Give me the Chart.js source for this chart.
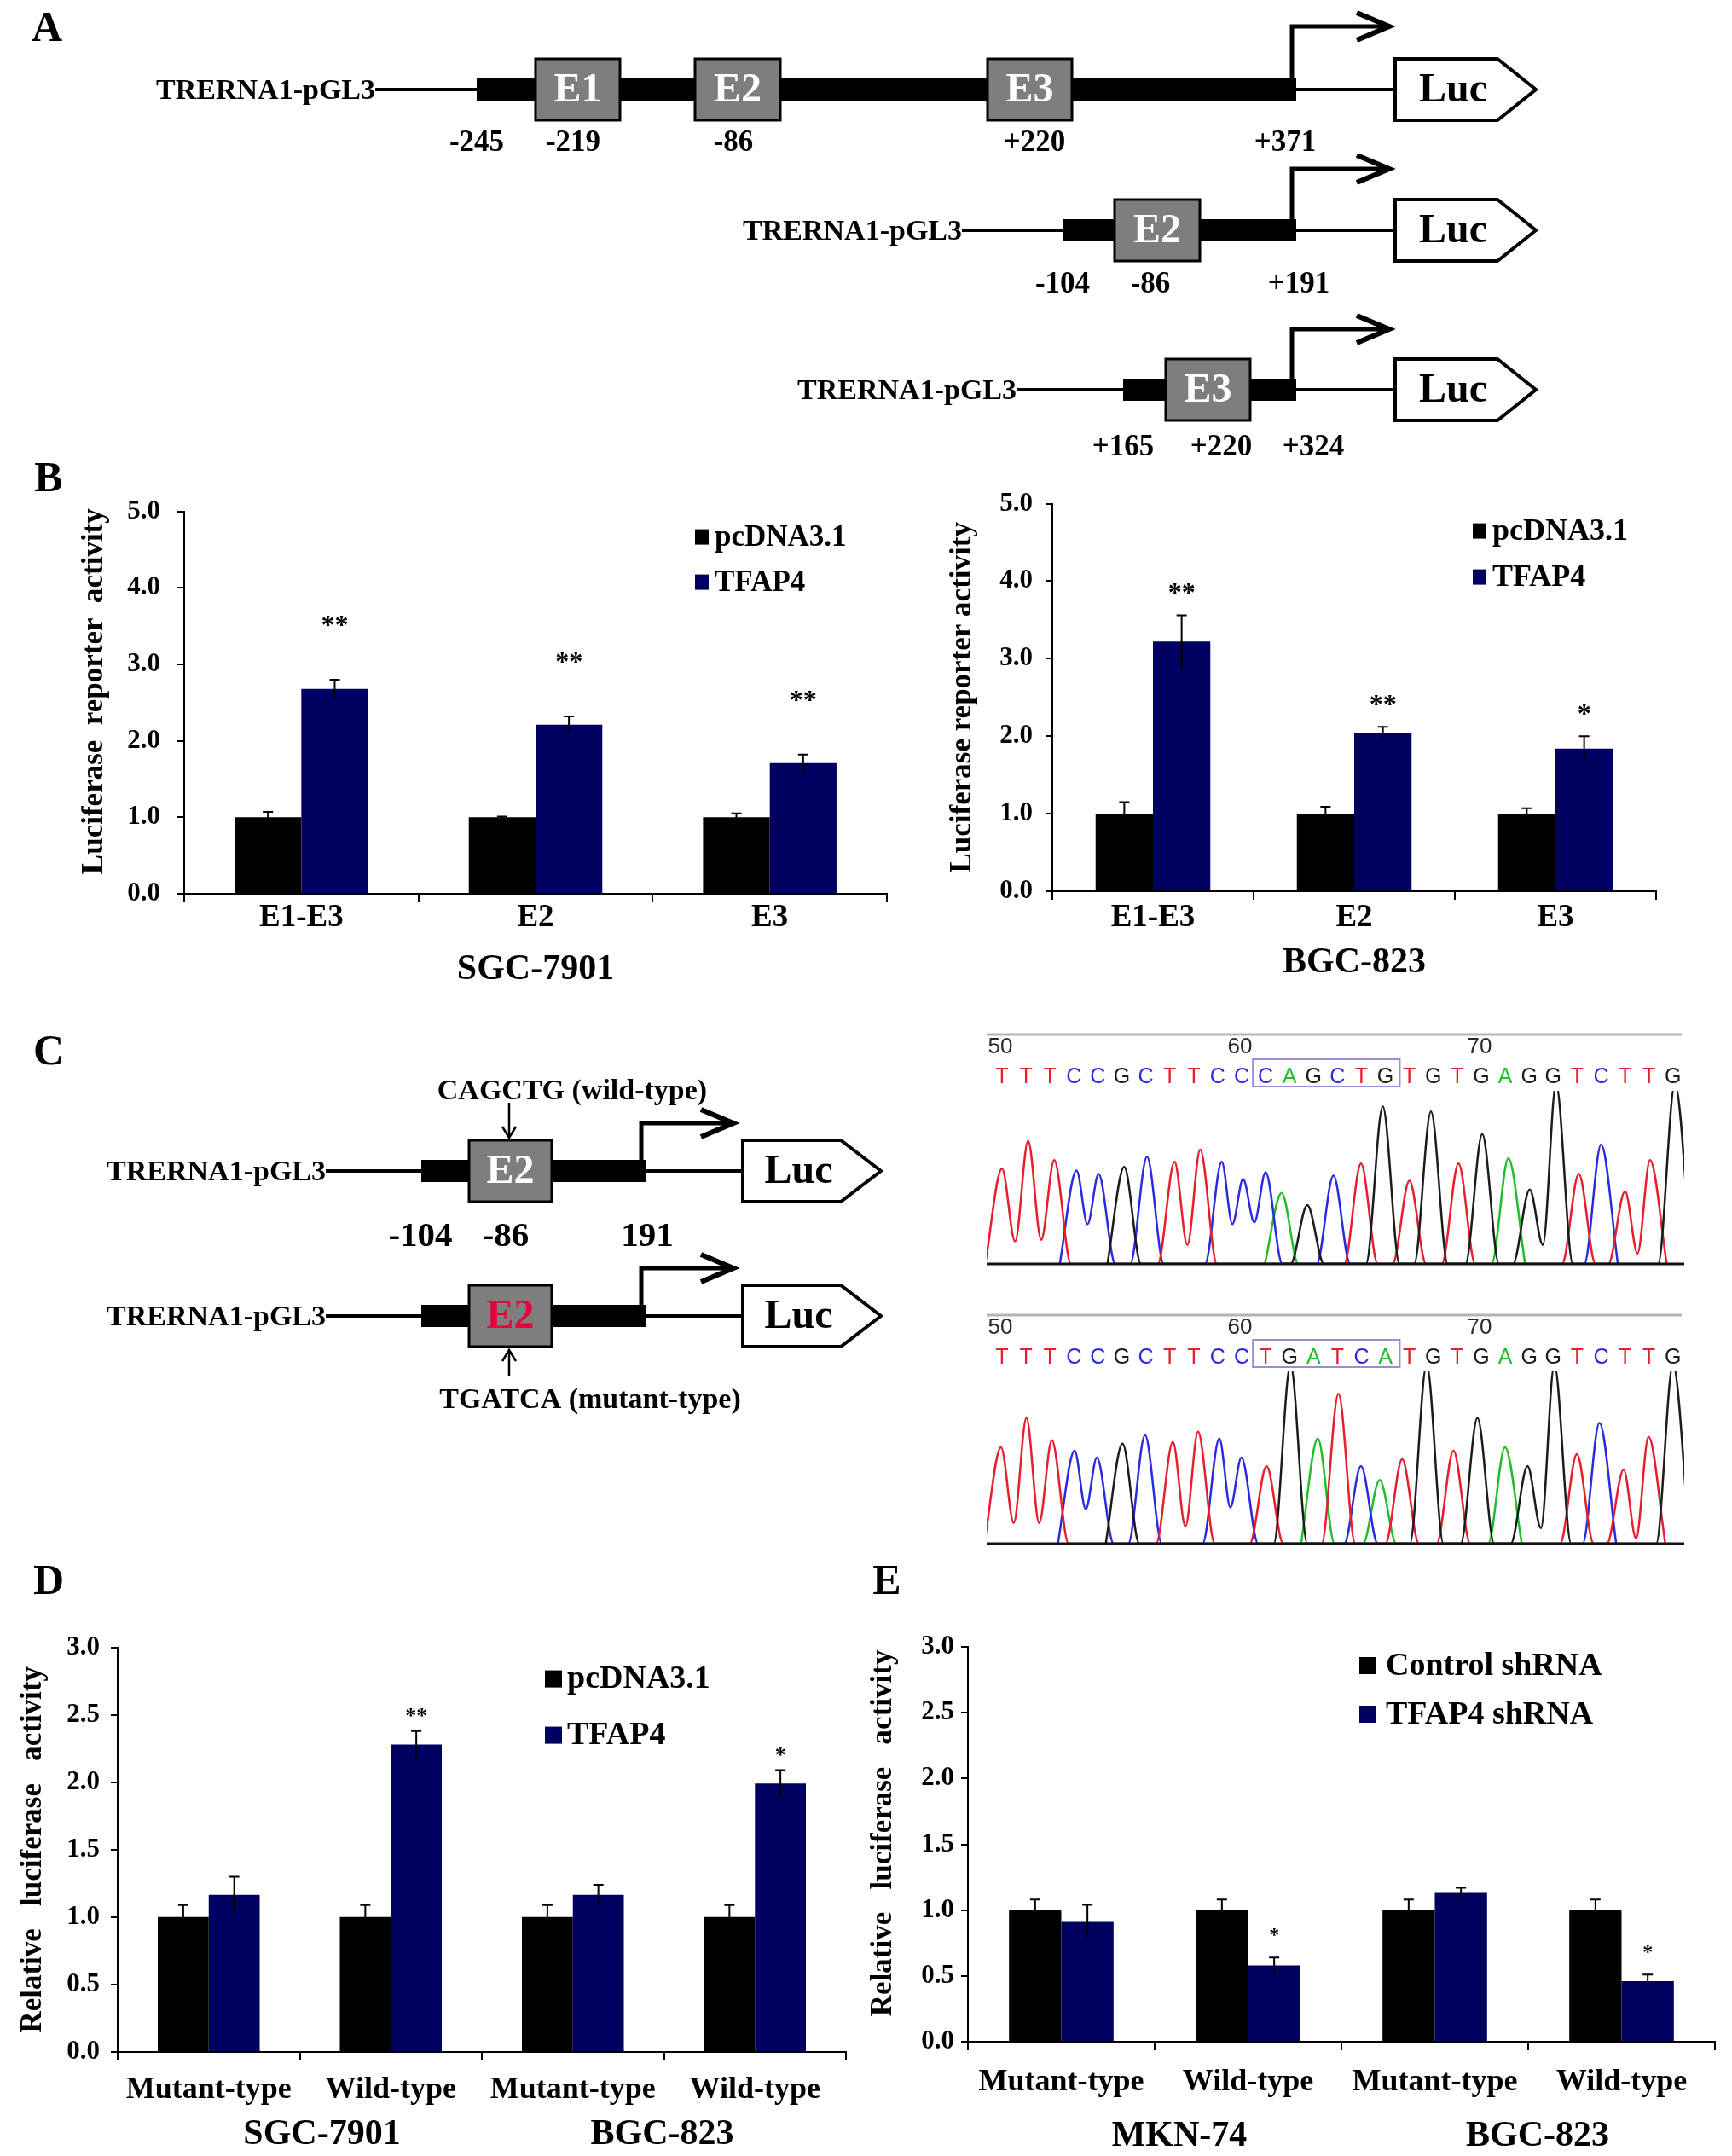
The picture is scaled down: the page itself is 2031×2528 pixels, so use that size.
<!DOCTYPE html>
<html>
<head>
<meta charset="utf-8">
<script src="https://cdn.jsdelivr.net/npm/chart.js@4.4.1/dist/chart.umd.min.js"></script>
<style>
  html, body { margin: 0; padding: 0; background: #fff; }
  #page { position: relative; width: 2031px; height: 2528px; overflow: hidden; background: #fff; }
  .wrap { position: absolute; }
  canvas { display: block; }
</style>
</head>
<body>
<div id="page">
  <canvas id="bg" width="2031" height="2528" style="position:absolute;left:0;top:0"></canvas>
  <div class="wrap" style="left:90px;top:561px"><canvas id="chartB1" width="954" height="601"></canvas></div>
  <div class="wrap" style="left:1108px;top:557px"><canvas id="chartB2" width="838" height="597"></canvas></div>
  <div class="wrap" style="left:1140px;top:1190px"><canvas id="seqWild" width="850" height="310"></canvas></div>
  <div class="wrap" style="left:1140px;top:1519px"><canvas id="seqMut" width="850" height="310"></canvas></div>
  <div class="wrap" style="left:18px;top:1900px"><canvas id="chartD" width="978" height="628"></canvas></div>
  <div class="wrap" style="left:1015px;top:1901px"><canvas id="chartE" width="1000" height="627"></canvas></div>
</div>
<script>
const SERIF = "'Liberation Serif', 'Times New Roman', serif";
const SANS = "'Liberation Sans', Arial, sans-serif";

// ---- B: luciferase reporter activity
const bCats = ['E1-E3', 'E2', 'E3'];
const bSeries = ['pcDNA3.1', 'TFAP4'];

const sgcPc = [1.0, 1.0, 1.0];
const sgcPcErr = [0.07, 0.01, 0.05];
const sgcTf = [2.68, 2.21, 1.71];
const sgcTfErr = [0.12, 0.11, 0.11];
const sgcStars = ['**', '**', '**'];

const bgcPc = [1.0, 1.0, 1.0];
const bgcPcErr = [0.15, 0.09, 0.07];
const bgcTf = [3.22, 2.04, 1.84];
const bgcTfErr = [0.34, 0.08, 0.16];
const bgcStars = ['**', '**', '*'];

// ---- D / E: mutant vs wild-type
const deCats = ['Mutant-type', 'Wild-type', 'Mutant-type', 'Wild-type'];
const dGroups = ['SGC-7901', 'BGC-823'];
const dSeries = ['pcDNA3.1', 'TFAP4'];
const dPc = [1.0, 1.0, 1.0, 1.0];
const dPcErr = [0.09, 0.09, 0.09, 0.09];
const dTf = [1.165, 2.28, 1.165, 1.99];
const dTfErr = [0.135, 0.10, 0.075, 0.10];
const dStars = ['', '**', '', '*'];

const eGroups = ['MKN-74', 'BGC-823'];
const eSeries = ['Control shRNA', 'TFAP4 shRNA'];
const eCtrl = [1.0, 1.0, 1.0, 1.0];
const eCtrlErr = [0.08, 0.08, 0.08, 0.08];
const eSh = [0.91, 0.58, 1.13, 0.46];
const eShErr = [0.13, 0.06, 0.04, 0.05];
const eStars = ['', '*', '', '*'];

// ---- C: sequencing traces (peak position, peak height, raised valley to next same-base peak)
const seqWildBases = 'TTTCCGCTTCCCAGCTGTGTGAGGTCTTG';
const seqWildPos = [50.0, 51.09, 52.18, 53.11, 54.03, 55.1, 56.05, 57.2, 58.27, 59.17, 60.06, 61.0, 61.67, 62.74,
  63.83, 64.98, 65.89, 67.0, 67.9, 69.05, 70.04, 71.13, 72.02, 73.12, 74.07, 75.0, 76.0, 77.04, 78.08];
const seqWildHeight = [55, 71, 60, 54, 52, 56, 62, 59, 66, 59, 49, 53, 41, 34, 51, 58, 91, 48, 88, 58,
  75, 61, 43, 104, 52, 69, 42, 60, 104];
const seqWildValley = [13, 14, 0, 23, 0, 0, 0, 11, 0, 23, 24, 0, 0, 0, 0, 0, 0, 0, 0, 0, 0, 0, 11, 0, 0, 0, 6, 0];

const seqMutBases = 'TTTCCGCTTCCTGATCATGTGAGGTCTTG';
const seqMutPos = [49.96, 51.02, 52.08, 53.03, 53.96, 55.03, 55.97, 57.13, 58.18, 59.07, 59.99, 61.04, 62.04, 63.18,
  64.04, 64.98, 65.76, 66.7, 67.72, 68.84, 69.84, 70.99, 71.93, 73.05, 73.99, 74.93, 75.94, 76.98, 78.0];
const seqMutHeight = [56, 73, 60, 54, 50, 58, 63, 59, 65, 61, 50, 45, 104, 61, 87, 45, 37, 49, 104, 54,
  73, 56, 45, 104, 52, 70, 43, 62, 104];
const seqMutValley = [12, 12, 0, 20, 0, 0, 0, 10, 0, 21, 0, 0, 0, 0, 0, 0, 0, 0, 0, 0, 0, 0, 9, 0, 0, 0, 3, 0];

const seqTickLabels = [50, 60, 70];

const BASE_COLORS = { A: '#1fbe2a', C: '#2a2ae0', G: '#1c1c1c', T: '#e61e2e' };
const BLACK = '#000000';
const NAVY = '#000060';

Chart.defaults.font.family = SERIF;
Chart.defaults.font.weight = 'bold';
Chart.defaults.color = '#000';
Chart.defaults.devicePixelRatio = 1;
Chart.defaults.animation = false;

// error bars, stars, legend and group labels
const extrasPlugin = {
  id: 'extras',
  afterDatasetsDraw(chart, args, opts) {
    const ctx = chart.ctx;
    const y = chart.scales.y;
    chart.data.datasets.forEach((ds, di) => {
      const meta = chart.getDatasetMeta(di);
      meta.data.forEach((bar, j) => {
        const v = ds.data[j], e = ds.errors[j];
        const top = y.getPixelForValue(v + e);
        const bot = y.getPixelForValue(v - e);
        ctx.save();
        ctx.strokeStyle = '#000';
        ctx.lineWidth = 2;
        ctx.beginPath();
        ctx.moveTo(bar.x, bot);
        ctx.lineTo(bar.x, top);
        ctx.moveTo(bar.x - opts.capHalf, top);
        ctx.lineTo(bar.x + opts.capHalf, top);
        ctx.stroke();
        if (ds.stars && ds.stars[j]) {
          ctx.fillStyle = '#000';
          ctx.font = `bold ${opts.starFont}px ${SERIF}`;
          ctx.textAlign = 'center';
          ctx.textBaseline = 'alphabetic';
          ctx.fillText(ds.stars[j], bar.x, top - opts.starGap + opts.starFont * 0.5);
        }
        ctx.restore();
      });
    });
  },
  afterDraw(chart, args, opts) {
    const ctx = chart.ctx;
    const area = chart.chartArea;
    const lg = opts.legend;
    ctx.save();
    ctx.font = `bold ${lg.font}px ${SERIF}`;
    ctx.textAlign = 'left';
    ctx.textBaseline = 'middle';
    chart.data.datasets.forEach((ds, i) => {
      const x = area.left + lg.dx;
      const yc = area.top + lg.dy[i];
      ctx.fillStyle = ds.backgroundColor;
      ctx.fillRect(x, yc - lg.box[1] / 2, lg.box[0], lg.box[1]);
      ctx.fillStyle = '#000';
      ctx.fillText(ds.label, x + lg.box[0] + lg.gap, yc + 1);
    });
    if (opts.groups) {
      const xs = chart.scales.x;
      ctx.font = `bold ${opts.groupFont}px ${SERIF}`;
      ctx.textAlign = 'center';
      opts.groups.forEach((g, i) => {
        const cx = (xs.getPixelForValue(2 * i) + xs.getPixelForValue(2 * i + 1)) / 2 + opts.groupShift[i];
        ctx.fillText(g, cx, area.bottom + opts.groupDy);
      });
    }
    ctx.restore();
  }
};

function barChart(id, c) {
  return new Chart(document.getElementById(id), {
    type: 'bar',
    data: {
      labels: c.labels,
      datasets: c.series.map((s, i) => ({
        label: s,
        data: c.values[i],
        errors: c.errors[i],
        stars: c.stars[i],
        backgroundColor: i === 0 ? BLACK : NAVY,
        borderWidth: 0,
        categoryPercentage: c.catPct,
        barPercentage: 1.0
      }))
    },
    plugins: [extrasPlugin],
    options: {
      responsive: false,
      maintainAspectRatio: false,
      layout: { padding: { top: c.padTop, right: 4, left: 0, bottom: 0 } },
      plugins: {
        legend: { display: false },
        tooltip: { enabled: false },
        extras: c.extras
      },
      scales: {
        x: {
          grid: { drawOnChartArea: false, drawTicks: true, tickLength: 10, color: '#000', lineWidth: 2, offset: true },
          border: { display: true, color: '#000', width: 2 },
          ticks: { font: { size: c.xFont, weight: 'bold' }, padding: c.xPad, autoSkip: false, maxRotation: 0 },
          title: c.xTitle ? { display: true, text: c.xTitle, font: { size: 42, weight: 'bold' }, padding: 0 } : { display: false },
          afterFit: s => { s.height = c.xHeight; }
        },
        y: {
          min: 0,
          max: c.yMax,
          grid: { drawOnChartArea: false, drawTicks: true, tickLength: 8, color: '#000', lineWidth: 2 },
          border: { display: true, color: '#000', width: 2 },
          ticks: { stepSize: c.yStep, font: { size: c.yFont, weight: 'bold' }, padding: c.yPad,
                   callback: v => v.toFixed(1) },
          title: { display: true, text: c.yTitle, font: { size: c.yTitleFont, weight: 'bold' }, padding: 0 },
          afterFit: s => { s.width = c.yWidth; }
        }
      }
    }
  });
}

barChart('chartB1', {
  labels: bCats, series: bSeries,
  values: [sgcPc, sgcTf], errors: [sgcPcErr, sgcTfErr], stars: [null, sgcStars],
  catPct: 0.57, yMax: 5, yStep: 1, yFont: 31, yPad: 20, xFont: 37, xPad: -4, padTop: 20,
  yTitle: '   Luciferase  reporter  activity', yTitleFont: 35, yWidth: 126, xHeight: 114,
  xTitle: 'SGC-7901',
  extras: { capHalf: 6, starFont: 32, starGap: 70,
            legend: { dx: 599, dy: [30, 83], box: [16, 18], gap: 7, font: 35 } }
});

barChart('chartB2', {
  labels: bCats, series: bSeries,
  values: [bgcPc, bgcTf], errors: [bgcPcErr, bgcTfErr], stars: [null, bgcStars],
  catPct: 0.57, yMax: 5, yStep: 1, yFont: 31, yPad: 15, xFont: 37, xPad: -1, padTop: 30,
  yTitle: 'Luciferase reporter activity', yTitleFont: 35, yWidth: 126, xHeight: 109,
  xTitle: 'BGC-823',
  extras: { capHalf: 6, starFont: 32, starGap: 32,
            legend: { dx: 493, dy: [32, 86], box: [15, 18], gap: 8, font: 36 } }
});

barChart('chartD', {
  labels: deCats, series: dSeries,
  values: [dPc, dTf], errors: [dPcErr, dTfErr], stars: [null, dStars],
  catPct: 0.56, yMax: 3, yStep: 0.5, yFont: 31, yPad: 13, xFont: 36, xPad: 13, padTop: 30,
  yTitle: 'Relative   luciferase   activity', yTitleFont: 35, yWidth: 120, xHeight: 122,
  extras: { capHalf: 6, starFont: 26, starGap: 23,
            legend: { dx: 501, dy: [37, 103], box: [20, 20], gap: 6, font: 38 },
            groups: dGroups, groupShift: [26, -2], groupDy: 97, groupFont: 42 }
});

barChart('chartE', {
  labels: deCats, series: eSeries,
  values: [eCtrl, eSh], errors: [eCtrlErr, eShErr], stars: [null, eStars],
  catPct: 0.56, yMax: 3, yStep: 0.5, yFont: 31, yPad: 8, xFont: 36, xPad: 16, padTop: 30,
  yTitle: '   Relative   luciferase   activity', yTitleFont: 35, yWidth: 120, xHeight: 134,
  extras: { capHalf: 6, starFont: 24, starGap: 31,
            legend: { dx: 459, dy: [22, 79], box: [19, 20], gap: 12, font: 38 },
            groups: eGroups, groupShift: [29, 11], groupDy: 111, groupFont: 42 }
});

// ---- sequencing traces
function traceData(bases, pos, height, valley, base) {
  const half = 0.7;
  const pts = [];
  for (let i = 0; i < bases.length; i++) {
    if (bases[i] !== base) continue;
    const prevSame = i > 0 && bases[i - 1] === base;
    const nextSame = i < bases.length - 1 && bases[i + 1] === base;
    if (!prevSame) pts.push({ x: pos[i] - half, y: 0 });
    pts.push({ x: pos[i], y: height[i] });
    if (nextSame) pts.push({ x: (pos[i] + pos[i + 1]) / 2, y: valley[i] });
    else pts.push({ x: pos[i] + half, y: 0 });
  }
  return pts;
}

const seqDecor = {
  id: 'seqDecor',
  afterDraw(chart, args, opts) {
    const ctx = chart.ctx;
    const a = chart.chartArea;
    const xs = chart.scales.x;
    ctx.save();
    // grey ruler line
    ctx.strokeStyle = '#b4b4b4';
    ctx.lineWidth = 3;
    ctx.beginPath();
    ctx.moveTo(a.left, a.top - 66);
    ctx.lineTo(a.right - 3, a.top - 66);
    ctx.stroke();
    // position numbers
    ctx.fillStyle = '#2a2a2a';
    ctx.font = `26px ${SANS}`;
    ctx.textAlign = 'center';
    ctx.textBaseline = 'middle';
    seqTickLabels.forEach(n => ctx.fillText(String(n), xs.getPixelForValue(n) - 2, a.top - 51));
    // base calls
    ctx.font = `25px ${SANS}`;
    for (let i = 0; i < opts.bases.length; i++) {
      const b = opts.bases[i];
      ctx.fillStyle = BASE_COLORS[b];
      ctx.fillText(b, xs.getPixelForValue(50 + i), a.top - 16);
    }
    // site box
    ctx.strokeStyle = '#9a8cd6';
    ctx.lineWidth = 2;
    const x0 = xs.getPixelForValue(60.47), x1 = xs.getPixelForValue(66.6);
    ctx.strokeRect(x0, a.top - 37, x1 - x0, 32);
    // baseline
    ctx.strokeStyle = '#111';
    ctx.lineWidth = 3;
    ctx.beginPath();
    ctx.moveTo(a.left, a.bottom);
    ctx.lineTo(a.right, a.bottom);
    ctx.stroke();
    ctx.restore();
  }
};

function seqChart(id, bases, pos, height, valley, padBottom) {
  return new Chart(document.getElementById(id), {
    type: 'scatter',
    data: {
      datasets: ['G', 'T', 'C', 'A'].map(b => ({
        data: traceData(bases, pos, height, valley, b),
        showLine: true,
        borderColor: BASE_COLORS[b],
        borderWidth: 2.5,
        pointRadius: 0,
        cubicInterpolationMode: 'monotone'
      }))
    },
    plugins: [seqDecor],
    options: {
      responsive: false,
      maintainAspectRatio: false,
      layout: { padding: { left: 17, right: 15, top: 89, bottom: padBottom } },
      plugins: { legend: { display: false }, tooltip: { enabled: false }, seqDecor: { bases } },
      scales: {
        x: { type: 'linear', min: 49.36, max: 78.47, display: false },
        y: { min: 0, max: 100, display: false }
      }
    }
  });
}

seqChart('seqWild', seqWildBases, seqWildPos, seqWildHeight, seqWildValley, 18);
seqChart('seqMut', seqMutBases, seqMutPos, seqMutHeight, seqMutValley, 19);

// ---- construct diagrams (A and C)
const bg = document.getElementById('bg').getContext('2d');

const panelLetters = [['A', 55, 35], ['B', 57, 563], ['C', 57, 1235], ['D', 57, 1856], ['E', 1040, 1856]];

const constructsA = [
  { y: 105, textRight: 440, thick0: 559, thick1: 1520, arrowTop: 31, arrowLen: 114, luc0: 1636, lucRect: 120, lucTip: 45,
    boxes: [['E1', 628, 727], ['E2', 815, 915], ['E3', 1158, 1257]],
    marks: [['-245', 559], ['-219', 672], ['-86', 860], ['+220', 1213], ['+371', 1507]], markY: 168, markFont: 35 },
  { y: 270, textRight: 1128, thick0: 1246, thick1: 1520, arrowTop: 198, arrowLen: 114, luc0: 1636, lucRect: 120, lucTip: 45,
    boxes: [['E2', 1307, 1407]],
    marks: [['-104', 1246], ['-86', 1349], ['+191', 1523]], markY: 334, markFont: 35 },
  { y: 457, textRight: 1192, thick0: 1317, thick1: 1520, arrowTop: 386, arrowLen: 114, luc0: 1636, lucRect: 120, lucTip: 45,
    boxes: [['E3', 1367, 1466]],
    marks: [['+165', 1317], ['+220', 1432], ['+324', 1540]], markY: 525, markFont: 35 }
];

const constructsC = [
  { y: 1373, textRight: 382, thick0: 494, thick1: 757, arrowTop: 1317, arrowLen: 108, luc0: 871, lucRect: 115, lucTip: 47,
    boxes: [['E2', 550, 647]],
    marks: [['-104', 493], ['-86', 593], ['191', 759]], markY: 1450, markFont: 41 },
  { y: 1543, textRight: 382, thick0: 494, thick1: 757, arrowTop: 1487, arrowLen: 108, luc0: 871, lucRect: 115, lucTip: 47,
    boxes: [['E2', 550, 647]], boxText: '#e8003c', marks: [] }
];

function drawConstruct(ctx, r) {
  ctx.save();
  ctx.fillStyle = '#000';
  ctx.strokeStyle = '#000';
  ctx.font = `bold 34px ${SERIF}`;
  ctx.textAlign = 'right';
  ctx.textBaseline = 'middle';
  ctx.fillText('TRERNA1-pGL3', r.textRight, r.y + 2);
  // thin lines
  ctx.lineWidth = 4;
  ctx.beginPath();
  ctx.moveTo(r.textRight, r.y);
  ctx.lineTo(r.thick0, r.y);
  ctx.moveTo(r.thick1, r.y);
  ctx.lineTo(r.luc0, r.y);
  ctx.stroke();
  // thick region
  ctx.fillRect(r.thick0, r.y - 13, r.thick1 - r.thick0, 26);
  // transcription start arrow
  const ax = r.thick1 - 5;
  ctx.lineWidth = 5;
  ctx.lineJoin = 'miter';
  ctx.beginPath();
  ctx.moveTo(ax, r.y - 12);
  ctx.lineTo(ax, r.arrowTop);
  ctx.lineTo(ax + r.arrowLen - 4, r.arrowTop);
  ctx.stroke();
  ctx.lineWidth = 6;
  ctx.beginPath();
  ctx.moveTo(ax + r.arrowLen - 38, r.arrowTop - 16);
  ctx.lineTo(ax + r.arrowLen, r.arrowTop);
  ctx.lineTo(ax + r.arrowLen - 38, r.arrowTop + 16);
  ctx.stroke();
  // E-boxes
  r.boxes.forEach(([t, x0, x1]) => {
    ctx.fillStyle = '#7e7e7e';
    ctx.fillRect(x0, r.y - 36, x1 - x0, 72);
    ctx.lineWidth = 3;
    ctx.strokeStyle = '#000';
    ctx.strokeRect(x0, r.y - 36, x1 - x0, 72);
    ctx.fillStyle = r.boxText || '#fff';
    ctx.font = `bold 48px ${SERIF}`;
    ctx.textAlign = 'center';
    ctx.fillText(t, (x0 + x1) / 2, r.y + 2);
  });
  // Luc pentagon
  ctx.fillStyle = '#fff';
  ctx.lineWidth = 4;
  ctx.beginPath();
  ctx.moveTo(r.luc0, r.y - 36);
  ctx.lineTo(r.luc0 + r.lucRect, r.y - 36);
  ctx.lineTo(r.luc0 + r.lucRect + r.lucTip, r.y);
  ctx.lineTo(r.luc0 + r.lucRect, r.y + 36);
  ctx.lineTo(r.luc0, r.y + 36);
  ctx.closePath();
  ctx.fill();
  ctx.stroke();
  ctx.fillStyle = '#000';
  ctx.font = `bold 48px ${SERIF}`;
  ctx.textAlign = 'center';
  ctx.fillText('Luc', r.luc0 + r.lucRect / 2 + 8, r.y + 2);
  // coordinates
  ctx.font = `bold ${r.markFont}px ${SERIF}`;
  r.marks.forEach(([t, x]) => ctx.fillText(t, x, r.markY));
  ctx.restore();
}

bg.fillStyle = '#fff';
bg.fillRect(0, 0, 2031, 2528);
bg.fillStyle = '#000';
bg.font = `bold 50px ${SERIF}`;
bg.textAlign = 'center';
bg.textBaseline = 'middle';
panelLetters.forEach(([t, x, y]) => bg.fillText(t, x, y));

constructsA.forEach(r => drawConstruct(bg, r));
constructsC.forEach(r => drawConstruct(bg, r));

// site annotations in C
function siteArrow(ctx, x, yFrom, yTo) {
  const dir = yTo > yFrom ? 1 : -1;
  ctx.save();
  ctx.strokeStyle = '#000';
  ctx.lineWidth = 2.5;
  ctx.beginPath();
  ctx.moveTo(x, yFrom);
  ctx.lineTo(x, yTo);
  ctx.moveTo(x - 8, yTo - dir * 13);
  ctx.lineTo(x, yTo);
  ctx.lineTo(x + 8, yTo - dir * 13);
  ctx.stroke();
  ctx.restore();
}
siteArrow(bg, 597, 1293, 1334);
siteArrow(bg, 597, 1613, 1583);
bg.fillStyle = '#000';
bg.font = `bold 34px ${SERIF}`;
bg.textAlign = 'center';
bg.textBaseline = 'middle';
bg.fillText('CAGCTG (wild-type)', 671, 1280);
bg.fillText('TGATCA (mutant-type)', 692, 1642);
</script>
</body>
</html>
